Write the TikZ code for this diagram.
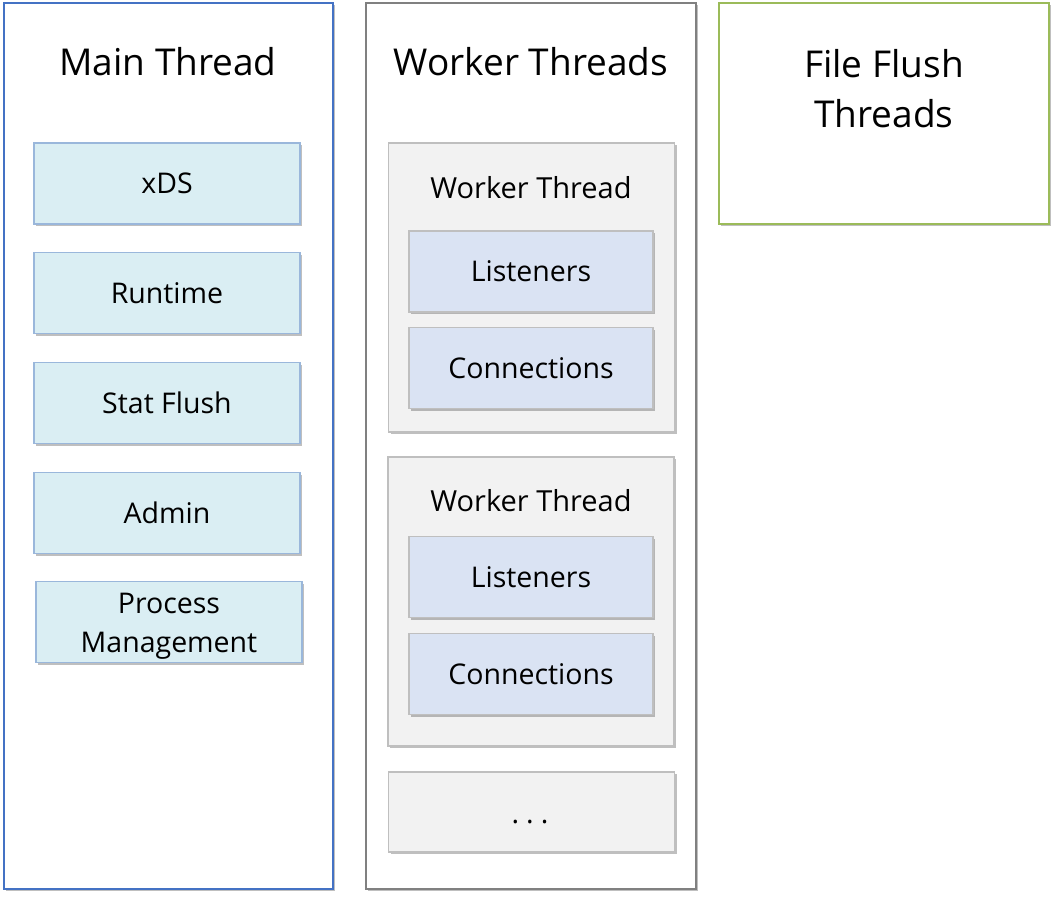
\documentclass[tikz,border=0pt]{standalone}
\usepackage{fontspec}
\setmainfont{Open Sans}
\usetikzlibrary{shadows}
\definecolor{mainblue}{HTML}{4472C4}
\definecolor{itemfill}{HTML}{DAEEF3}
\definecolor{itemline}{HTML}{9AB7DB}
\definecolor{workline}{HTML}{808080}
\definecolor{boxfill}{HTML}{F2F2F2}
\definecolor{boxline}{HTML}{BFBFBF}
\definecolor{partfill}{HTML}{DAE3F3}
\definecolor{flushgreen}{HTML}{9BBB59}
\tikzset{
    soft/.style = {drop shadow={shadow xshift=2pt, shadow yshift=-2pt, opacity=0.25, fill=black}},
    outerbox/.style = {draw, line width=1.5pt, fill=white, soft, inner sep=0pt},
    itembox/.style = {draw=itemline, fill=itemfill, line width=1.5pt, soft, inner sep=0pt,
        minimum width=266pt, minimum height=81pt, font=\fontsize{28.5}{39}\selectfont, align=center},
    threadbox/.style = {draw=boxline, fill=boxfill, line width=1.5pt, soft, inner sep=0pt,
        minimum width=286pt},
    partbox/.style = {draw=boxline, fill=partfill, line width=1.5pt, soft, inner sep=0pt,
        minimum width=244pt, minimum height=81pt, font=\fontsize{28.5}{30}\selectfont},
    bigtitle/.style = {font=\fontsize{37}{50}\selectfont, align=center, inner sep=0pt},
    smalltitle/.style = {font=\fontsize{29}{30}\selectfont, inner sep=0pt}
}
\begin{document}
\begin{tikzpicture}[x=1pt, y=-1pt]
    \useasboundingbox (0,0) rectangle (1058,899);
    % three columns
    \node [outerbox, draw=mainblue, minimum width=329pt, minimum height=886pt] (main) at (168.5,446) {};
    \node [outerbox, draw=workline, minimum width=330pt, minimum height=886pt] (workers) at (531,446) {};
    \node [outerbox, draw=flushgreen, minimum width=330pt, minimum height=221pt] (flush) at (884,113.5) {};
    \node [bigtitle] (maintitle) at (168,62) {Main Thread};
    \node [bigtitle] (workerstitle) at (531,62) {Worker Threads};
    \node [bigtitle] (flushtitle) at (884,89) {File Flush\\Threads};
    % main thread items
    \node [itembox] (xds) at (167,183.5) {xDS};
    \node [itembox] (runtime) at (167,293) {Runtime};
    \node [itembox] (statflush) at (167,403) {Stat Flush};
    \node [itembox] (admin) at (167,513) {Admin};
    \node [itembox] (procmgmt) at (169,622) {};
    \node [font=\fontsize{28.5}{39}\selectfont, align=center, inner sep=0pt] (procmgmttext) at (169,626) {Process\\Management};
    % worker threads
    \node [threadbox, minimum height=289pt] (worker1) at (531.5,287.5) {};
    \node [smalltitle] (worker1title) at (531,188) {Worker Thread};
    \node [partbox] (listeners1) at (531,271.5) {Listeners};
    \node [partbox] (connections1) at (531,368) {Connections};
    \node [threadbox, minimum height=289pt] (worker2) at (531,601.5) {};
    \node [smalltitle] (worker2title) at (531,501) {Worker Thread};
    \node [partbox] (listeners2) at (531,577) {Listeners};
    \node [partbox] (connections2) at (531,674) {Connections};
    \node [threadbox, minimum height=80pt] (more) at (531.5,812) {};
    \node [font=\fontsize{28.5}{30}\selectfont, inner sep=0pt] (moredots) at (530,822) {.\hspace{7pt}.\hspace{7pt}.};
\end{tikzpicture}
\end{document}
